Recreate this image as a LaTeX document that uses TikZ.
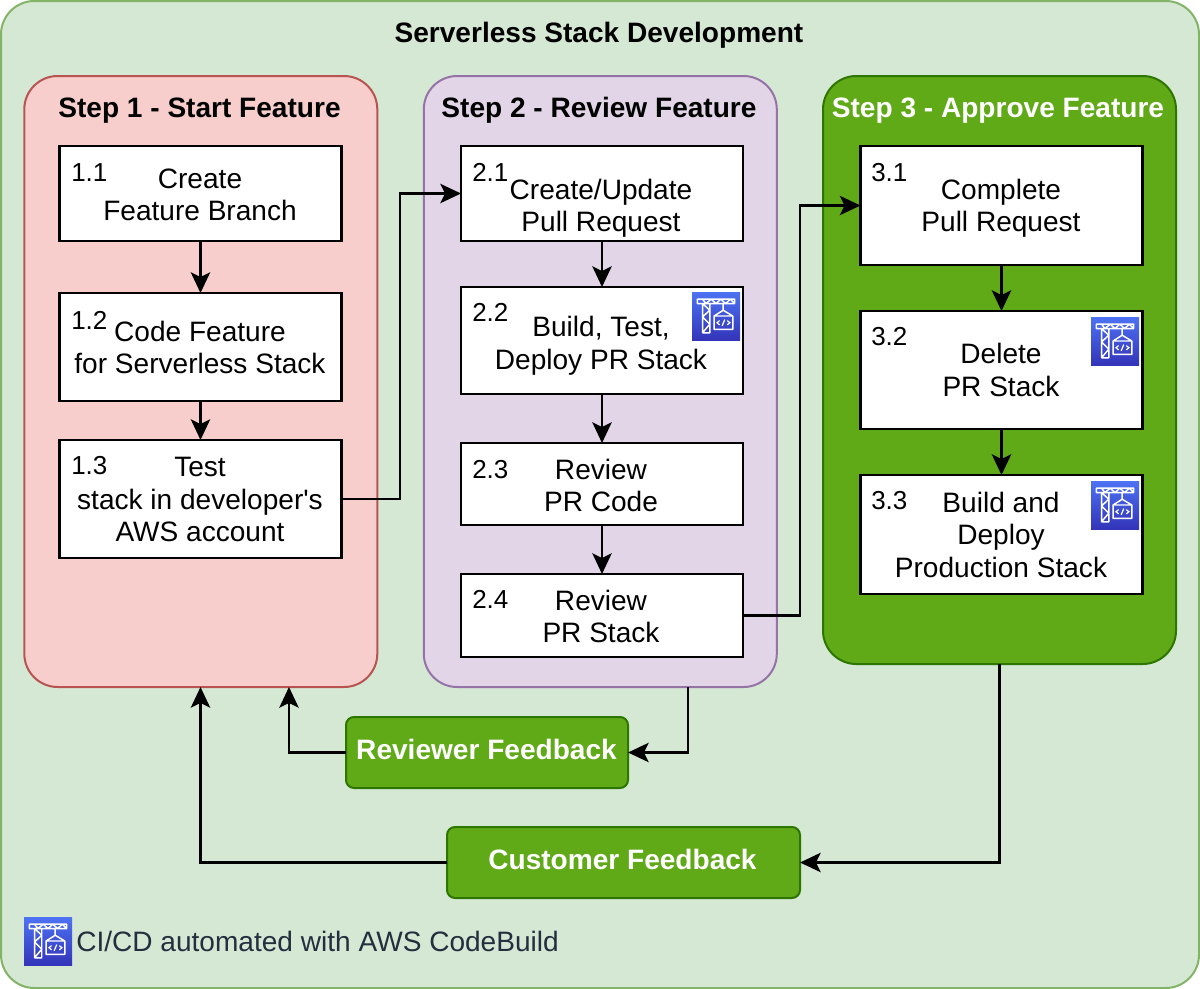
\documentclass[tikz,border=0pt]{standalone}
\usepackage{fontspec}
\setmainfont{Liberation Sans}[Ligatures=TeXOff]
\usetikzlibrary{arrows.meta}
\definecolor{outerfill}{HTML}{D5E8D4}
\definecolor{outerline}{HTML}{82B366}
\definecolor{redfill}{HTML}{F8CECC}
\definecolor{redline}{HTML}{B85450}
\definecolor{purplefill}{HTML}{E1D5E7}
\definecolor{purpleline}{HTML}{9673A6}
\definecolor{greenfill}{HTML}{60A917}
\definecolor{greenline}{HTML}{2D7600}
\definecolor{inktext}{HTML}{232F3E}
\definecolor{icontop}{HTML}{4D72F3}
\definecolor{iconbottom}{HTML}{3334B9}
\newcommand{\txt}{\fontsize{21.05pt}{24.4pt}\selectfont}
\newcommand{\numtxt}{\fontsize{19.5pt}{24.4pt}\selectfont}
\tikzset{
  pxsize/.style 2 args={minimum width=#1*0.75pt,minimum height=#2*0.75pt},
  panel/.style={draw,line width=1.5pt,rounded corners=25pt,inner sep=0pt,outer sep=0pt},
  stepbox/.style={draw=black,fill=white,line width=1.6pt,inner sep=0pt,outer sep=0pt},
  bodytext/.style={align=center,font=\txt,inner sep=0pt,yshift=-3.3pt,execute at begin node=\strut,execute at end node=\strut},
  feedback/.style={draw=greenline,fill=greenfill,line width=1.5pt,rounded corners=6pt,inner sep=0pt,outer sep=0pt},
  heading/.style={font=\txt\bfseries,inner sep=0pt,anchor=base},
  numlabel/.style={font=\numtxt,inner sep=0pt,anchor=base west},
  link/.style={draw=black,line width=1.8pt,-{Stealth[length=15.5pt,width=14.5pt,inset=3.5pt]}},
  crane/.pic={
    \begin{scope}[x=0.36pt,y=-0.36pt]
      \shade[top color=icontop,bottom color=iconbottom] (0,0) rectangle (100,100);
      \draw[white,line width=1.1pt,line join=round]
        (11,15) -- (89,15) -- (89,24) -- (11,24) -- cycle
        (22,15) -- (29,24) -- (40,15) -- (50,24) -- (60,15) -- (70,24) -- (80,15) -- (89,24)
        (22,24) -- (22,85) -- (37,85) -- (37,24)
        (22,24) -- (37,38) -- (22,52) -- (37,67) -- (22,85)
        (65,24) -- (65,38) -- (46,50) -- (85,50) -- (65,38)
        (46,50) rectangle (85,78);
      \draw[white,line width=0.9pt,line cap=round]
        (57,60) -- (52,64) -- (57,68)
        (74,60) -- (79,64) -- (74,68)
        (68,58) -- (63,70);
    \end{scope}
  }
}
\begin{document}
\begin{tikzpicture}[x=0.75pt,y=-0.75pt]
\useasboundingbox (0,0) rectangle (1200,989);

\node[panel,draw=outerline,fill=outerfill,pxsize={1198}{987}] (outer) at (600,494.5) {};
\node[heading] (title) at (599,42) {Serverless Stack Development};

\node[panel,draw=redline,fill=redfill,pxsize={353}{611}] (s1) at (200.8,381.5) {};
\node[panel,draw=purpleline,fill=purplefill,pxsize={353}{611}] (s2) at (600.3,381.5) {};
\node[panel,draw=greenline,fill=greenfill,pxsize={353}{588}] (s3) at (999.5,370) {};

\node[heading] (t1) at (199.5,117) {Step 1 - Start Feature};
\node[heading] (t2) at (599,117) {Step 2 - Review Feature};
\node[heading,text=white] (t3) at (998,117) {Step 3 - Approve Feature};

\node[stepbox,pxsize={282}{95}] (b11) at (200.5,193.5) {};
\node[stepbox,pxsize={282}{108}] (b12) at (200.5,347) {};
\node[stepbox,pxsize={282}{118}] (b13) at (200.5,499) {};
\node[stepbox,pxsize={282}{95}] (b21) at (602,193.5) {};
\node[stepbox,pxsize={282}{107}] (b22) at (602,340.5) {};
\node[stepbox,pxsize={282}{82}] (b23) at (602,484) {};
\node[stepbox,pxsize={282}{83}] (b24) at (602,615.5) {};
\node[stepbox,pxsize={282}{119}] (b31) at (1001.5,205.5) {};
\node[stepbox,pxsize={282}{118}] (b32) at (1001.5,370) {};
\node[stepbox,pxsize={282}{119}] (b33) at (1001.5,534.5) {};

\node[bodytext] (x11) at (200,195) {Create\\Feature Branch};
\node[bodytext] (x12) at (200,348) {Code Feature\\for Serverless Stack};
\node[bodytext] (x13) at (200,500) {Test\\stack in developer's\\AWS account};
\node[bodytext] (x21) at (601,206) {Create/Update\\Pull Request};
\node[bodytext] (x22) at (601,343.5) {Build, Test,\\Deploy PR Stack};
\node[bodytext] (x23) at (601,486) {Review\\PR Code};
\node[bodytext] (x24) at (601,617) {Review\\PR Stack};
\node[bodytext] (x31) at (1001,206) {Complete\\Pull Request};
\node[bodytext] (x32) at (1001,370.5) {Delete\\PR Stack};
\node[bodytext] (x33) at (1001,535) {Build and\\Deploy\\Production Stack};

\node[numlabel] (n11) at (71,181) {1.1};
\node[numlabel] (n12) at (71,329) {1.2};
\node[numlabel] (n13) at (71,474) {1.3};
\node[numlabel] (n21) at (472,181) {2.1};
\node[numlabel] (n22) at (472,321) {2.2};
\node[numlabel] (n23) at (472,478) {2.3};
\node[numlabel] (n24) at (472,608) {2.4};
\node[numlabel] (n31) at (871,181) {3.1};
\node[numlabel] (n32) at (871,345) {3.2};
\node[numlabel] (n33) at (871,509) {3.3};

\node[feedback,pxsize={282}{71}] (rf) at (487,752.5) {};
\node[feedback,pxsize={353}{71}] (cf) at (623.5,862.5) {};
\node[heading,text=white] (rft) at (486.5,759) {Reviewer Feedback};
\node[heading,text=white] (cft) at (622.5,869) {Customer Feedback};

\pic at (692,292) {crane};
\pic at (1091,317) {crane};
\pic at (1091,481) {crane};
\pic at (24,917) {crane};
\node[font=\txt,text=inktext,inner sep=0pt,anchor=base west] (legend) at (76,951) {CI/CD automated with AWS CodeBuild};

\draw[link] (b11) -- (b12);
\draw[link] (b12) -- (b13);
\draw[link] (b21) -- (b22);
\draw[link] (b22) -- (b23);
\draw[link] (b23) -- (b24);
\draw[link] (b31) -- (b32);
\draw[link] (b32) -- (b33);

\coordinate (c1) at (400,193.5);
\coordinate (c2) at (800,205.5);
\draw[link] (b13.east) -- (c1 |- b13.east) -- (c1) -- (b21.west);
\draw[link] (b24.east) -- (c2 |- b24.east) -- (c2) -- (b31.west);

\coordinate (c3) at (688,687);
\coordinate (c4) at (289,687);
\coordinate (c5) at (200.5,687);
\draw[link] (c3) |- (rf.east);
\draw[link] (rf.west) -| (c4);
\draw[link] (s3.south) |- (cf.east);
\draw[link] (cf.west) -| (c5);
\end{tikzpicture}
\end{document}
